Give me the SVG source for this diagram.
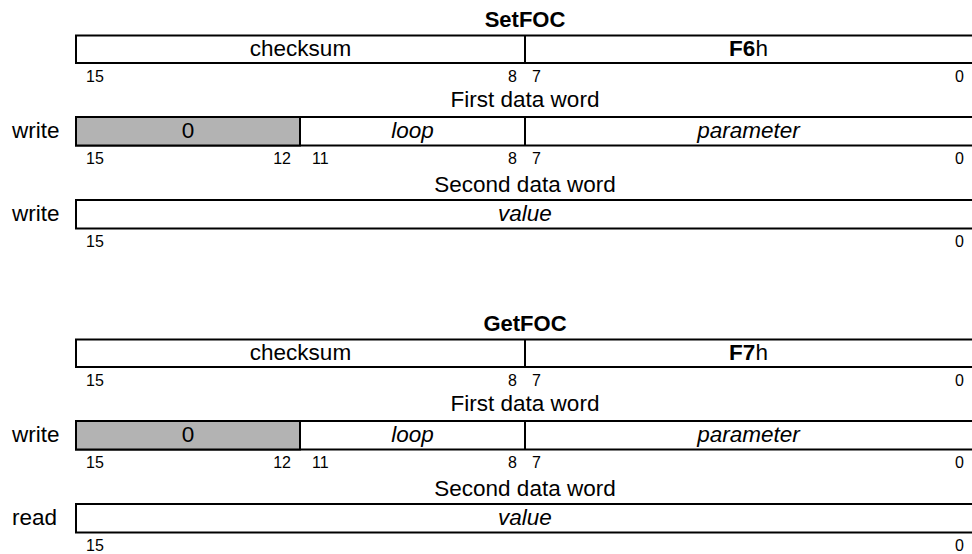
<svg xmlns="http://www.w3.org/2000/svg" width="972" height="554" viewBox="0 0 972 554">
<style>
text{font-family:"Liberation Sans",Arial,sans-serif;fill:#000}
.t{font-size:22px;font-weight:bold;text-anchor:middle}
.l{font-size:22.5px;text-anchor:middle}
.i{font-size:22.5px;font-style:italic;text-anchor:middle}
.s{font-size:22.5px}
.n{font-size:16px}
.r{text-anchor:end}
.c{fill:#fff;stroke:#000;stroke-width:2}
.g{fill:#b3b3b3;stroke:#000;stroke-width:2}
</style>
<defs>
<g id="common">
<rect class="c" x="76" y="35.5" width="900" height="27.5"/>
<line x1="525" y1="35.5" x2="525" y2="63" stroke="#000" stroke-width="2"/>
<text class="l" x="300.5" y="56">checksum</text>
<text class="n" x="86" y="82">15</text>
<text class="n r" x="517" y="82">8</text>
<text class="n" x="532" y="82">7</text>
<text class="n r" x="964" y="82">0</text>
<text class="l" x="525" y="107">First data word</text>
<text class="s" x="12" y="138">write</text>
<rect class="c" x="76" y="117" width="900" height="28.5"/>
<rect class="g" x="76" y="117" width="224" height="28.5"/>
<line x1="525" y1="117" x2="525" y2="145.5" stroke="#000" stroke-width="2"/>
<text class="l" x="188" y="138">0</text>
<text class="i" x="412.5" y="138">loop</text>
<text class="i" x="748.5" y="138">parameter</text>
<text class="n" x="86" y="164">15</text>
<text class="n r" x="291" y="164">12</text>
<text class="n" x="312" y="164">11</text>
<text class="n r" x="517" y="164">8</text>
<text class="n" x="532" y="164">7</text>
<text class="n r" x="964" y="164">0</text>
<text class="l" x="525" y="192">Second data word</text>
<rect class="c" x="76" y="200" width="900" height="28.5"/>
<text class="i" x="525" y="221">value</text>
<text class="n" x="86" y="247">15</text>
<text class="n r" x="964" y="247">0</text>
</g>
</defs>
<g id="setfoc">
<text class="t" x="525" y="27">SetFOC</text>
<use href="#common"/>
<text class="l" x="748.5" y="56"><tspan font-weight="bold">F6</tspan>h</text>
<text class="s" x="12" y="221">write</text>
</g>
<g id="getfoc" transform="translate(0,304)">
<text class="t" x="525" y="27">GetFOC</text>
<use href="#common"/>
<text class="l" x="748.5" y="56"><tspan font-weight="bold">F7</tspan>h</text>
<text class="s" x="12" y="221">read</text>
</g>
</svg>
